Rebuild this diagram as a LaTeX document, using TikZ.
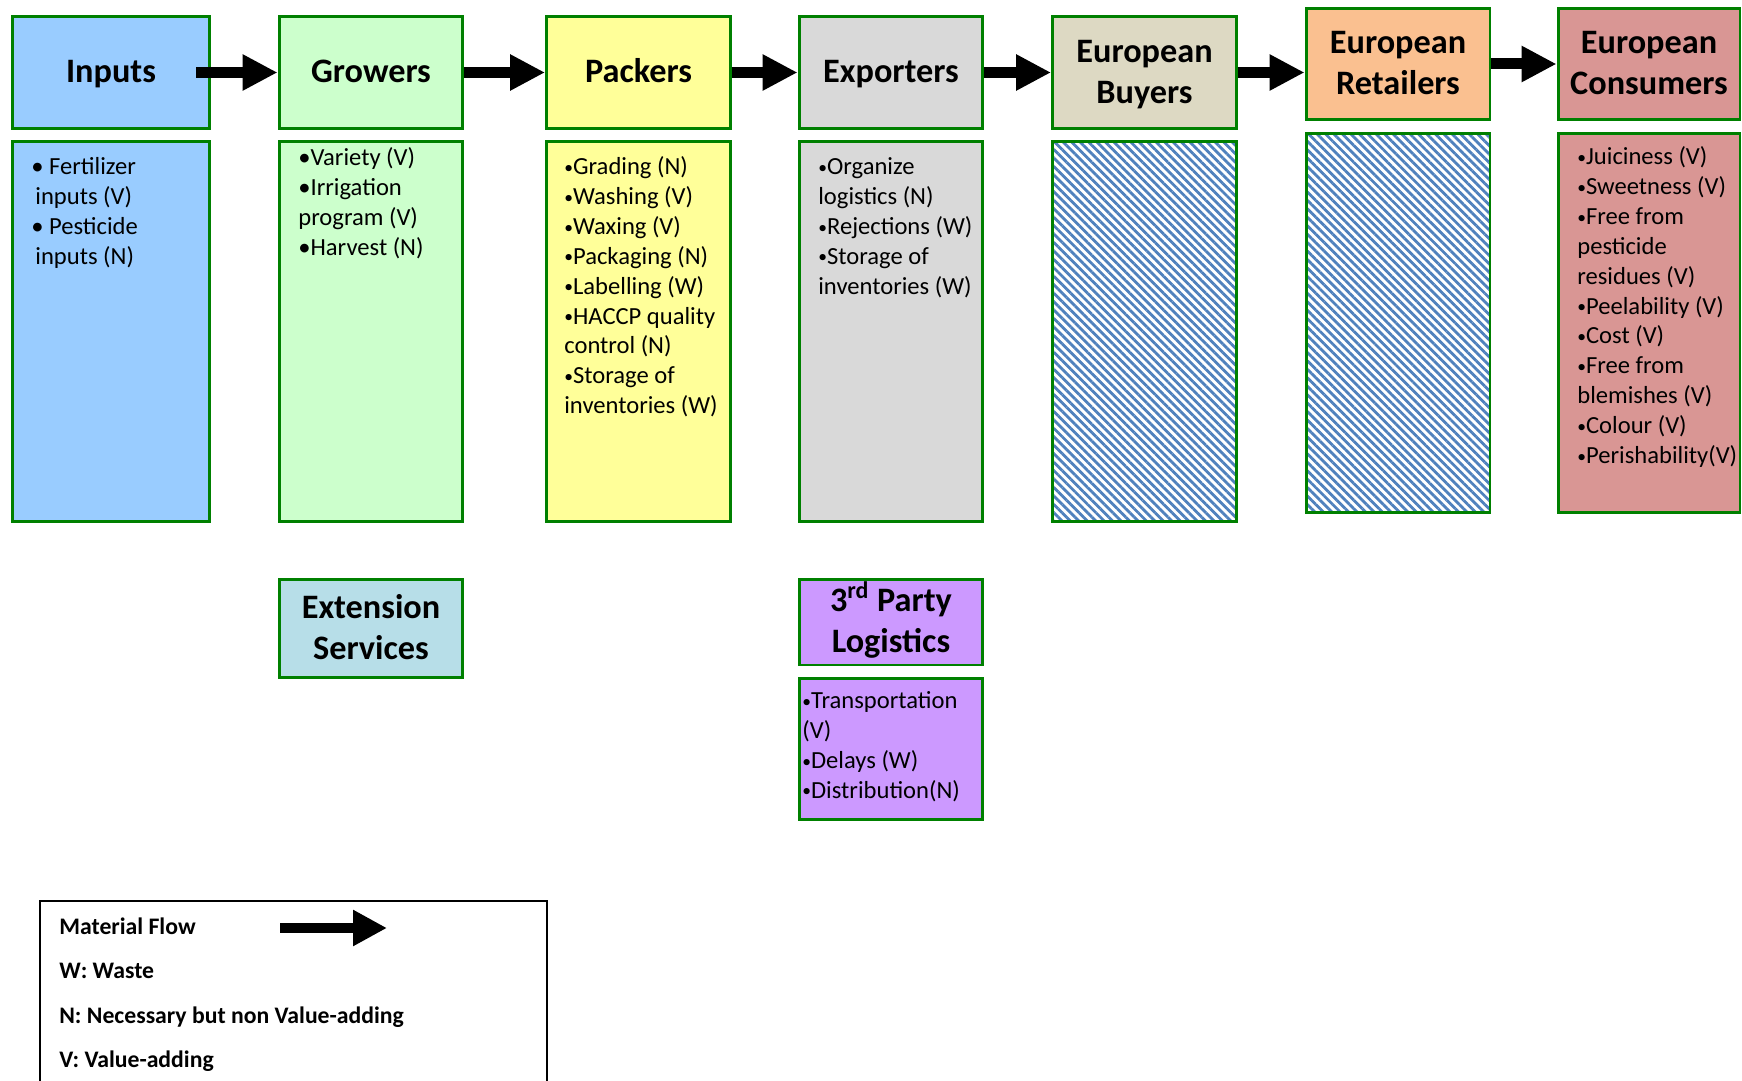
\documentclass[tikz,border=0pt]{standalone}
\usepackage{fontspec}
\setmainfont{Carlito}
\usetikzlibrary{arrows.meta,patterns.meta}
\definecolor{ChainBorder}{HTML}{008000}
\definecolor{InputsFill}{HTML}{99CCFF}
\definecolor{GrowersFill}{HTML}{CCFFCC}
\definecolor{PackersFill}{HTML}{FFFF99}
\definecolor{ExportersFill}{HTML}{D9D9D9}
\definecolor{BuyersFill}{HTML}{DDD9C3}
\definecolor{RetailersFill}{HTML}{FAC090}
\definecolor{ConsumersFill}{HTML}{D99694}
\definecolor{ExtensionFill}{HTML}{B7DEE8}
\definecolor{PartyFill}{HTML}{CC99FF}
\definecolor{HatchBlue}{HTML}{4F81BD}
\newcommand{\smalldot}{\raisebox{0.12ex}{\fontsize{10}{10}\selectfont•}}
\newcommand{\headstrut}{\rule[-7pt]{0pt}{25.7pt}}
\newcommand{\footstrut}{\rule[-7pt]{0pt}{7pt}}

\begin{document}
\begin{tikzpicture}[x=0.02cm,y=-0.02cm,
    box/.style={draw=ChainBorder,line width=1.7pt,inner sep=0pt,minimum width=3.68cm},
    head/.style={box,align=center,font=\fontsize{19.5}{23.2}\selectfont\bfseries},
    hatch/.style={box,pattern={Lines[angle=-45,distance=3.4pt,line width=1.6pt]},pattern color=HatchBlue},
    list/.style={anchor=north west,inner sep=0pt,align=left,font=\fontsize{14}{17}\selectfont},
    flow/.style={line width=0.22cm,-{Triangle[length=0.7cm,width=0.68cm]}},
    key/.style={anchor=west,inner sep=0pt,font=\fontsize{13.5}{16}\selectfont\bfseries}]
  \useasboundingbox (0,0) rectangle (1742,1081);
  % chain stages
  \node[head,fill=InputsFill,minimum width=3.96cm,minimum height=2.26cm] (inputs) at (111,72.5) {\headstrut Inputs};
  \node[box,fill=InputsFill,minimum width=3.96cm,minimum height=7.62cm] (inputsbody) at (111,331.5) {};
  \node[head,fill=GrowersFill,minimum height=2.26cm] (growers) at (371,72.5) {\headstrut Growers};
  \node[box,fill=GrowersFill,minimum height=7.62cm] (growersbody) at (371,331.5) {};
  \node[head,fill=PackersFill,minimum height=2.26cm] (packers) at (638.5,72.5) {\headstrut Packers};
  \node[box,fill=PackersFill,minimum height=7.62cm] (packersbody) at (638.5,331.5) {};
  \node[head,fill=ExportersFill,minimum height=2.26cm] (exporters) at (891,72.5) {\headstrut Exporters};
  \node[box,fill=ExportersFill,minimum height=7.62cm] (exportersbody) at (891,331.5) {};
  \node[head,fill=BuyersFill,minimum height=2.26cm] (buyers) at (1144.5,72.5) {\headstrut European\\\footstrut Buyers};
  \node[hatch,minimum height=7.62cm] (buyersbody) at (1144.5,331.5) {};
  \node[head,fill=RetailersFill,minimum height=2.24cm] (retailers) at (1398,64) {\headstrut European\\\footstrut Retailers};
  \node[hatch,minimum height=7.6cm] (retailersbody) at (1398,323) {};
  \node[head,fill=ConsumersFill,minimum width=3.64cm,minimum height=2.24cm] (consumers) at (1649,64) {\headstrut European\\\footstrut Consumers};
  \node[box,fill=ConsumersFill,minimum width=3.64cm,minimum height=7.6cm] (consumersbody) at (1649,323) {};
  % support services
  \node[head,fill=ExtensionFill,minimum height=1.98cm] (extension) at (371,628.5) {\headstrut Extension\\\footstrut Services};
  \node[head,fill=PartyFill,minimum height=1.72cm] (party) at (891,622) {\headstrut 3\textsuperscript{rd} Party\\\footstrut Logistics};
  \node[box,fill=PartyFill,minimum height=2.82cm] (partybody) at (891,749) {};
  % activities
  \node[list] (inputslist) at (31,153.5) {\strut• Fertilizer\\\,inputs (V)\\• Pesticide\\\,inputs (N)};
  \node[list] (growerslist) at (298,144.5) {\strut•Variety (V)\\•Irrigation\\program (V)\\•Harvest (N)};
  \node[list] (packerslist) at (564,153.5) {\strut\smalldot Grading (N)\\\smalldot Washing (V)\\\smalldot Waxing (V)\\\smalldot Packaging (N)\\\smalldot Labelling (W)\\\smalldot HACCP quality\\control (N)\\\smalldot Storage of\\inventories (W)};
  \node[list] (exporterslist) at (818,153.5) {\strut\smalldot Organize\\logistics (N)\\\smalldot Rejections (W)\\\smalldot Storage of\\inventories (W)};
  \node[list] (consumerslist) at (1577,143.5) {\strut\smalldot Juiciness (V)\\\smalldot Sweetness (V)\\\smalldot Free from\\pesticide\\residues (V)\\\smalldot Peelability (V)\\\smalldot Cost (V)\\\smalldot Free from\\blemishes (V)\\\smalldot Colour (V)\\\smalldot Perishability(V)};
  \node[list] (partylist) at (802,687.5) {\strut\smalldot Transportation\\(V)\\\smalldot Delays (W)\\\smalldot Distribution(N)};
  % material flow
  \draw[flow,shorten <=-0.3cm] (inputs.east) -- (growers.west);
  \draw[flow] (growers.east) -- (packers.west);
  \draw[flow] (packers.east) -- (exporters.west);
  \draw[flow] (exporters.east) -- (buyers.west);
  \draw[flow] (buyers.east) -- (buyers.east -| retailers.west);
  \draw[flow] (retailers.east) -- (consumers.west);
  % legend
  \draw[line width=1pt] (40,1081) |- (547,901) -- (547,1081);
  \node[key] (keyflow) at (59,926) {Material Flow};
  \node[key] (keywaste) at (59,971) {W: Waste};
  \node[key] (keynecessary) at (59,1017) {N: Necessary but non Value-adding};
  \node[key] (keyvalue) at (59,1061) {V: Value-adding};
  \coordinate (flowtail) at (280,928);
  \coordinate (flowtip) at (387,928);
  \draw[flow,line width=0.2cm,-{Triangle[length=0.68cm,width=0.68cm]}] (flowtail) -- (flowtip);
\end{tikzpicture}
\end{document}
